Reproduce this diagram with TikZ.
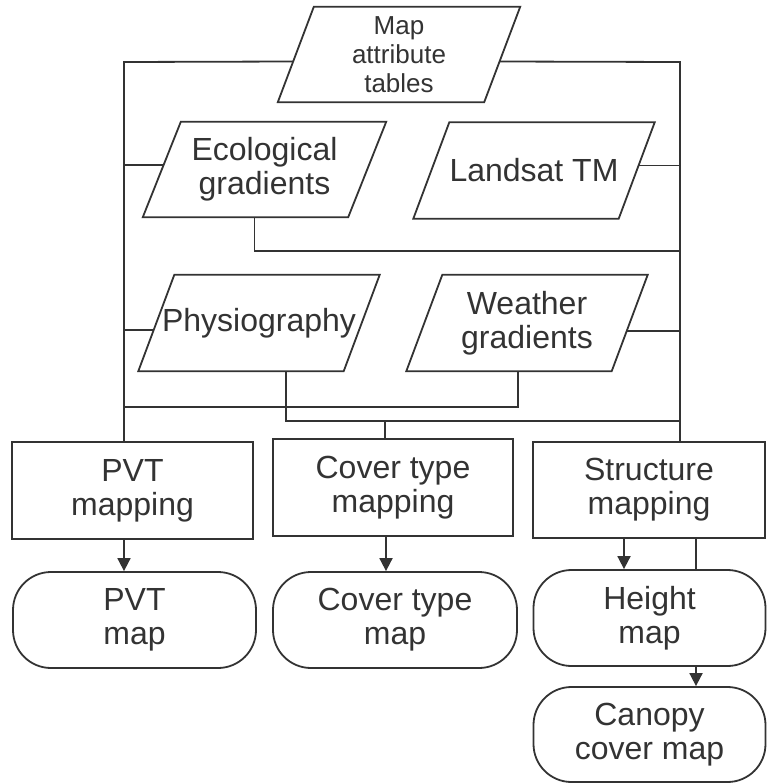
\documentclass[tikz,border=0pt]{standalone}
\usepackage{fontspec}
\setmainfont{Liberation Sans}
\usetikzlibrary{arrows.meta,calc}
\definecolor{ink}{HTML}{333333}
% outline of an input parallelogram around a text node: #1 node, #2 half of the slant
\newcommand\paraframe[2]{%
  \draw[frame] ([xshift=#2pt]#1.north west) -- ([xshift=#2pt]#1.north east)
    -- ([xshift=-#2pt]#1.south east) -- ([xshift=-#2pt]#1.south west) -- cycle;}
\begin{document}
\begin{tikzpicture}[x=1pt,y=-1pt,
  frame/.style={draw=ink, line width=1.8pt, line join=miter},
  wire/.style={draw=ink, line width=1.8pt},
  arr/.style={wire, -{Triangle[length=13pt,width=13pt]}},
  lbl/.style={text=ink, font=\fontsize{32}{34}\selectfont, align=center, inner sep=0pt},
  small/.style={text=ink, font=\fontsize{26}{29}\selectfont, align=center, inner sep=0pt},
  datain/.style={minimum height=96pt},
  process/.style={lbl, draw=ink, line width=1.8pt, minimum height=97pt},
  product/.style={lbl, draw=ink, line width=1.8pt, rounded corners=38pt, minimum height=96pt}]
\useasboundingbox (0,0) rectangle (767,784);

% input data layers
\node[small, datain, minimum height=95pt, minimum width=206pt] (map) at (399,54.5) {Map\\attribute\\tables};
\node[lbl, datain, minimum height=95pt, minimum width=205pt] (eco) at (264.5,169.5) {Ecological\\gradients};
\node[lbl, datain, minimum width=205pt] (land) at (534,170.5) {Landsat TM};
\node[lbl, datain, minimum width=205pt] (phys) at (259,323) {Physiography};
\node[lbl, datain, minimum width=205pt] (wthr) at (527,323) {Weather\\gradients};
\paraframe{map}{18}
\paraframe{eco}{19}
\paraframe{land}{18}
\paraframe{phys}{18}
\paraframe{wthr}{18}

% mapping steps
\node[process, minimum width=241pt] (pvtm) at (132.5,490.5) {PVT\\mapping};
\node[process, minimum width=240pt] (covm) at (393,487.5) {Cover type\\mapping};
\node[process, minimum width=232pt, minimum height=96pt] (strm) at (649,490) {Structure\\mapping};

% output maps
\node[product, minimum width=243pt] (pvt) at (134.5,620) {PVT\\map};
\node[product, minimum width=244pt] (cov) at (395,620) {Cover type\\map};
\node[product, minimum width=232pt] (hgt) at (649.5,618) {Height\\map};
\node[product, minimum width=232pt, minimum height=95pt] (can) at (649.5,734.5) {Canopy\\cover map};

% attachment points on the slanted sides
\coordinate (mapL) at ([shift={(-2.6,7)}]map.west);
\coordinate (mapR) at ([shift={(-2.6,7)}]map.east);
\coordinate (ecoL) at ([shift={(2,-4.5)}]eco.west);
\coordinate (landR) at ([shift={(2.2,-5)}]land.east);
\coordinate (physL) at ([shift={(-2.6,7)}]phys.west);
\coordinate (wthrR) at ([shift={(-2.6,8)}]wthr.east);
\coordinate (ecoB) at ([xshift=-10pt]eco.south);
\coordinate (physB) at ([xshift=27pt]phys.south);
\coordinate (wthrB) at ([xshift=-9pt]wthr.south);

% bus lines
\coordinate (lbus) at (124,62);
\coordinate (rbus) at (680,62);
\coordinate (mid) at (0,251);
\coordinate (low1) at (124,407);
\coordinate (low2) at (680,421);
\coordinate (covIn) at (385,421);

\draw[wire] (mapL) -- (lbus) -- (lbus |- pvtm.north);
\draw[wire] (mapR) -- (rbus) -- (rbus |- strm.north);
\draw[wire] (ecoL) -- (lbus |- ecoL);
\draw[wire] (landR) -- (rbus |- landR);
\draw[wire] (ecoB) -- (ecoB |- mid) -- (rbus |- mid);
\draw[wire] (physL) -- (lbus |- physL);
\draw[wire] (wthrR) -- (rbus |- wthrR);
\draw[wire] (wthrB) -- (wthrB |- low1) -- (low1);
\draw[wire] (physB) -- (physB |- low2) -- (low2);
\draw[wire] (covIn) -- (covIn |- covm.north);

% products
\coordinate (xcov) at (386,0);
\coordinate (xhgt) at (624,0);
\coordinate (xcan) at (696,0);
\draw[arr] (pvtm.south -| lbus) -- (pvt.north -| lbus);
\draw[arr] (covm.south -| xcov) -- (cov.north -| xcov);
\draw[arr] (strm.south -| xhgt) -- (hgt.north -| xhgt);
\draw[wire] (strm.south -| xcan) -- (hgt.north -| xcan);
\draw[arr] (hgt.south -| xcan) -- (can.north -| xcan);
\end{tikzpicture}
\end{document}
